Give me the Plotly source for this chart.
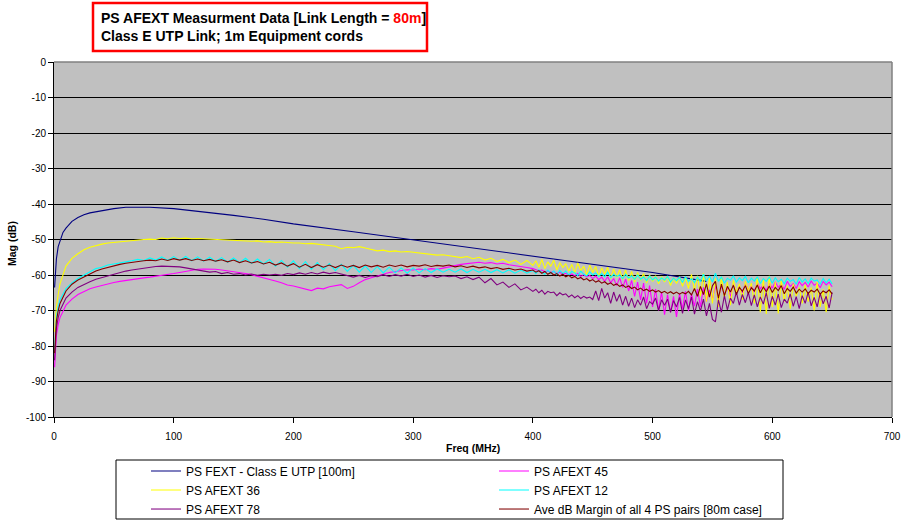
import plotly.graph_objects as go

# ---------------- data ----------------
# frequency grids (MHz)
FREQ_LOW = [0.5, 1, 2, 3.5] + list(range(5, 405, 5))          # 84 points
FREQ_HIGH = [402.5 + 2.5 * i for i in range(100)]              # 100 points

FEXT_FREQ = [0.5, 1, 2, 3.5, 5, 7.5, 10, 15, 20, 25, 30, 40, 50, 60, 70, 80,
             100, 125, 150, 175, 200, 250, 300, 350, 400, 450, 500, 545]
FEXT_VALS = [-63.5, -60, -55.5, -52, -50.3, -48, -46.8, -44.9, -43.8, -43, -42.5,
             -41.8, -41.3, -40.9, -40.8, -40.9, -41.3, -42.2, -43.2, -44.3, -45.6,
             -47.8, -50.1, -52.5, -54.8, -57.1, -59.3, -61.8]

AFEXT45_LOW = [
    -86, -81, -77, -74, -72, -68.5, -66.8, -65.5, -64.6, -63.9,
    -63.4, -62.9, -62.5, -62.1, -61.8, -61.5, -61.2, -61.0, -60.8, -60.6,
    -60.4, -60.1, -59.9, -59.6, -59.3, -59.0, -58.6, -58.4, -58.3, -58.3,
    -58.4, -58.6, -58.8, -59.1, -59.4, -59.6, -59.9, -60.3, -60.8, -61.2,
    -61.7, -62.2, -62.8, -63.1, -63.6, -64.0, -64.4, -63.7, -63.9, -63.3,
    -63.0, -62.7, -63.8, -63.2, -62.2, -61.3, -60.8, -60.2, -59.8, -59.3,
    -59.0, -58.7, -58.5, -58.6, -58.3, -58.5, -58.2, -58.4, -58.0, -57.8,
    -57.4, -57.0, -56.8, -56.6, -56.4, -56.7, -56.5, -56.9, -56.7, -57.1,
    -57.3, -57.6, -57.9, -58.2]
AFEXT45_HIGH = [
    -58.4, -58.8, -58.6, -59.1, -58.9, -59.3, -59.0, -59.6, -59.2, -59.8,
    -59.5, -60.0, -59.7, -60.2, -59.6, -60.4, -59.9, -60.6, -60.1, -61.0,
    -60.3, -61.3, -60.6, -61.8, -60.5, -62.2, -61.0, -63.0, -60.8, -63.5,
    -61.2, -64.5, -61.5, -66.0, -62.0, -67.0, -62.3, -68.0, -63.0, -69.0,
    -64.0, -70.0, -64.8, -71.2, -65.5, -70.5, -66.0, -71.8, -65.2, -69.5,
    -64.6, -70.2, -65.3, -68.8, -64.0, -69.0, -63.5, -67.5, -64.2, -66.8,
    -63.0, -67.0, -62.8, -65.5, -63.5, -66.0, -62.6, -64.8, -63.2, -65.0,
    -62.4, -64.2, -63.0, -64.8, -62.2, -63.9, -62.8, -64.5, -62.3, -63.7,
    -62.0, -63.5, -62.6, -64.0, -61.8, -63.2, -62.4, -63.8, -61.9, -63.0,
    -62.1, -63.4, -61.7, -62.9, -62.3, -63.6, -61.8, -62.8, -62.0, -63.3]

AFEXT36_LOW = [
    -76, -73, -69, -65.5, -62.5, -57.5, -55.3, -54.0, -52.9, -52.2,
    -51.7, -51.3, -51.0, -50.8, -50.6, -50.4, -50.3, -50.1, -50.0, -49.9,
    -50.0, -49.6, -49.8, -49.5, -49.7, -49.6, -49.8, -49.7, -49.8, -49.9,
    -49.8, -50.0, -50.0, -50.2, -50.3, -50.3, -50.5, -50.4, -50.7, -50.6,
    -50.8, -50.7, -50.9, -51.0, -51.0, -51.2, -51.1, -51.3, -51.4, -51.6,
    -51.9, -52.6, -52.2, -52.3, -52.0, -52.4, -52.8, -53.2, -53.0, -53.4,
    -53.2, -53.5, -53.4, -53.6, -53.7, -53.9, -54.2, -54.4, -54.3, -54.6,
    -54.7, -55.1, -54.8, -55.4, -55.0, -55.8, -55.3, -56.2, -55.6, -56.5,
    -55.8, -57.0, -55.9, -57.3]
AFEXT36_HIGH = [
    -56.0, -57.8, -55.6, -58.2, -56.3, -57.5, -55.8, -58.6, -56.5, -57.9,
    -56.8, -58.9, -57.0, -59.4, -56.6, -58.8, -57.5, -60.0, -57.2, -59.3,
    -57.6, -60.5, -58.0, -59.8, -57.8, -61.0, -58.3, -60.7, -58.5, -61.3,
    -58.6, -61.6, -59.0, -62.0, -59.3, -61.5, -59.6, -62.3, -60.0, -61.8,
    -60.2, -62.5, -60.4, -62.0, -60.3, -63.0, -60.8, -62.4, -60.5, -63.2,
    -60.6, -63.8, -59.8, -64.5, -60.2, -66.0, -59.5, -67.5, -60.8, -68.0,
    -61.0, -69.0, -60.5, -66.5, -62.0, -68.5, -61.5, -65.0, -62.5, -67.0,
    -61.8, -64.5, -62.3, -68.0, -60.5, -70.5, -61.0, -71.0, -60.2, -69.0,
    -62.0, -70.8, -61.5, -67.5, -63.0, -69.5, -62.5, -66.0, -63.5, -68.0,
    -62.8, -67.5, -63.5, -70.0, -62.0, -69.0, -64.0, -70.5, -63.0, -67.0]

AFEXT12_LOW = [
    -82, -77, -72, -69, -67, -63.8, -62.2, -61.0, -60.0, -59.2,
    -58.2, -57.8, -57.2, -56.9, -56.5, -56.3, -56.0, -55.6, -55.9, -55.2,
    -55.8, -54.9, -55.9, -54.8, -55.9, -54.8, -56.0, -54.9, -56.1, -55.0,
    -56.2, -55.1, -56.4, -55.2, -56.5, -55.3, -56.7, -55.5, -56.9, -55.6,
    -57.5, -55.9, -57.8, -56.0, -58.2, -56.2, -58.4, -56.5, -58.5, -56.8,
    -58.8, -57.0, -59.0, -57.2, -59.2, -57.4, -59.3, -57.6, -59.4, -57.8,
    -59.4, -58.0, -59.5, -58.0, -59.4, -58.2, -59.3, -58.3, -59.2, -58.4,
    -59.2, -58.3, -59.3, -58.4, -59.2, -58.4, -59.3, -58.5, -59.4, -58.5,
    -59.5, -58.6, -59.5, -58.7]
AFEXT12_HIGH = [
    -59.6, -58.5, -59.2, -59.8, -58.6, -59.5, -58.9, -59.9, -58.7, -59.6,
    -58.9, -60.0, -59.0, -59.4, -60.2, -58.9, -59.8, -60.3, -59.1, -60.0,
    -59.4, -60.4, -59.6, -60.5, -59.2, -60.7, -59.8, -60.4, -60.0, -61.0,
    -59.8, -60.9, -60.2, -61.3, -60.0, -61.2, -60.5, -61.6, -60.3, -61.4,
    -60.6, -61.7, -60.8, -61.5, -60.4, -62.0, -60.9, -61.6, -60.7, -62.1,
    -60.5, -61.8, -61.0, -62.2, -60.6, -61.9, -59.8, -61.7, -60.3, -62.0,
    -59.5, -61.8, -60.6, -62.3, -60.9, -61.5, -60.2, -62.0, -60.8, -61.6,
    -60.4, -62.2, -60.9, -61.7, -60.5, -62.4, -61.0, -61.8, -60.6, -62.3,
    -60.8, -61.9, -61.2, -62.5, -60.9, -61.8, -61.3, -62.6, -60.7, -62.0,
    -61.1, -62.4, -60.9, -61.7, -61.4, -62.6, -61.0, -62.2, -61.2, -62.5]

AFEXT78_LOW = [
    -84, -79, -75, -72, -70, -66.5, -64.8, -63.5, -62.6, -61.9,
    -61.2, -60.7, -60.2, -59.8, -59.3, -58.9, -58.6, -58.3, -58.0, -57.8,
    -57.6, -57.5, -57.5, -57.6, -57.7, -58.0, -58.3, -58.6, -58.8, -59.2,
    -59.0, -59.6, -59.3, -59.8, -59.6, -60.0, -59.7, -60.1, -59.8, -60.0,
    -59.8, -60.1, -59.6, -59.9, -59.4, -59.8, -59.3, -59.7, -59.2, -59.6,
    -59.3, -59.8, -60.2, -60.6, -60.1, -60.7, -60.2, -60.5, -59.9, -60.4,
    -59.9, -60.3, -59.8, -60.4, -60.0, -60.6, -60.1, -60.7, -60.2, -60.5,
    -60.3, -61.0, -60.5, -61.3, -60.6, -62.2, -61.0, -62.8, -62.0, -63.5,
    -62.5, -64.2, -63.4, -64.6]
AFEXT78_HIGH = [
    -64.0, -65.0, -64.3, -65.4, -64.6, -65.0, -64.8, -65.8, -65.0, -65.6,
    -65.3, -66.2, -65.6, -66.4, -65.8, -66.6, -66.0, -66.5, -66.2, -66.9,
    -64.5, -67.2, -63.8, -66.5, -65.0, -68.0, -64.8, -67.4, -65.5, -68.5,
    -66.0, -68.8, -66.5, -69.2, -67.0, -68.5, -66.2, -69.5, -67.5, -68.2,
    -66.5, -70.0, -67.0, -68.5, -66.8, -70.5, -67.2, -69.0, -66.3, -70.8,
    -67.0, -69.5, -66.2, -71.0, -67.5, -70.2, -66.8, -71.5, -68.0, -72.5,
    -73.2, -67.0, -70.5, -65.8, -69.8, -66.5, -68.0, -64.8, -68.5, -65.5,
    -67.8, -64.9, -68.6, -65.6, -69.0, -66.2, -68.2, -65.0, -69.4, -66.0,
    -68.5, -65.4, -69.2, -66.8, -67.9, -65.3, -68.8, -66.1, -69.5, -65.8,
    -68.0, -64.8, -68.7, -66.3, -69.0, -65.2, -68.1, -66.0, -69.3, -64.9]

AVE_LOW = [
    -82, -77, -73, -70, -68, -64.5, -62.6, -61.4, -60.5, -59.6,
    -58.9, -58.3, -57.8, -57.3, -57.0, -56.7, -56.4, -56.2, -56.0, -55.8,
    -56.0, -55.5, -55.9, -55.4, -55.8, -55.4, -55.9, -55.5, -56.0, -55.6,
    -56.1, -55.7, -56.3, -55.8, -56.5, -56.0, -56.6, -56.2, -56.9, -56.4,
    -57.2, -56.6, -57.5, -56.8, -57.8, -57.0, -57.9, -57.1, -57.8, -57.2,
    -57.9, -57.2, -57.8, -57.3, -57.9, -57.2, -57.7, -57.3, -57.8, -57.2,
    -57.6, -57.2, -57.7, -57.3, -57.5, -57.1, -57.6, -57.3, -57.5, -57.2,
    -57.7, -57.4, -57.9, -57.5, -58.0, -57.7, -58.2, -57.9, -58.4, -58.1,
    -58.6, -58.3, -58.9, -58.6]
AVE_HIGH = [
    -59.2, -58.8, -59.5, -59.0, -59.8, -59.3, -60.0, -59.6, -60.3, -59.8,
    -60.5, -60.1, -60.8, -60.4, -61.1, -60.7, -61.4, -61.0, -61.7, -61.3,
    -62.0, -61.6, -62.3, -61.9, -62.6, -62.2, -62.9, -62.5, -63.2, -62.8,
    -63.5, -63.1, -63.8, -63.4, -64.2, -63.7, -64.4, -64.0, -64.6, -64.2,
    -64.8, -64.4, -65.0, -64.6, -65.2, -64.7, -65.3, -64.8, -65.4, -64.9,
    -65.3, -64.6, -65.6, -63.8, -66.0, -63.2, -65.5, -62.5, -66.2, -63.0,
    -61.8, -66.5, -62.6, -65.8, -63.2, -64.8, -62.9, -65.5, -63.5, -64.6,
    -63.0, -65.2, -63.6, -64.5, -62.8, -65.0, -63.4, -64.7, -63.1, -64.9,
    -63.5, -64.4, -63.0, -65.3, -63.8, -64.6, -63.4, -65.1, -64.0, -64.8,
    -63.9, -65.2, -64.3, -64.8, -64.0, -65.4, -64.5, -65.0, -64.2, -65.3]

X_TICKS = [0, 100, 200, 300, 400, 500, 600, 700]
Y_TICKS = [0, -10, -20, -30, -40, -50, -60, -70, -80, -90, -100]

# ---------------- figure ----------------
FREQ = FREQ_LOW + FREQ_HIGH
# (name, x, y, colour, legend column)
series = [
    ("PS FEXT - Class E UTP [100m]", FEXT_FREQ, FEXT_VALS, "#000080", "legend"),
    ("PS AFEXT 45", FREQ, AFEXT45_LOW + AFEXT45_HIGH, "#FF00FF", "legend2"),
    ("PS AFEXT 36", FREQ, AFEXT36_LOW + AFEXT36_HIGH, "#FFFF00", "legend"),
    ("PS AFEXT 12", FREQ, AFEXT12_LOW + AFEXT12_HIGH, "#00FFFF", "legend2"),
    ("PS AFEXT 78", FREQ, AFEXT78_LOW + AFEXT78_HIGH, "#800080", "legend"),
    ("Ave dB Margin of all 4 PS pairs [80m case]", FREQ, AVE_LOW + AVE_HIGH, "#800000", "legend2"),
]

fig = go.Figure()
for name, xs, ys, col, leg in series:
    n = min(len(xs), len(ys))
    fig.add_trace(go.Scatter(x=xs[:n], y=ys[:n], mode="lines", name=name,
                             line=dict(color=col, width=1.1), legend=leg))

PL, PR, PT, PB = 54, 892, 62, 417
W, H = PR - PL, PB - PT


def px(xp):
    return (xp - PL) / W


def py(yp):
    return (PB - yp) / H


FONT = "Arial, Liberation Sans, sans-serif"
TICKFONT = dict(family=FONT, size=10, color="black")
LEGFONT = dict(family=FONT, size=12, color="black")

fig.update_layout(
    width=904, height=520,
    margin=dict(l=PL, r=904 - PR, t=PT, b=520 - PB, pad=0, autoexpand=False),
    paper_bgcolor="white", plot_bgcolor="#C0C0C0",
    font=dict(family=FONT, color="black"),
    xaxis=dict(range=[0, 700], tickvals=X_TICKS, ticktext=[str(v) for v in X_TICKS],
               showgrid=False, zeroline=False, showline=True, linecolor="black",
               linewidth=1, ticks="outside", ticklen=5, tickcolor="black",
               tickfont=TICKFONT, ticklabelstandoff=5),
    yaxis=dict(range=[-100, 0], tickvals=Y_TICKS, ticktext=[str(v) for v in Y_TICKS],
               showgrid=True, gridcolor="black", gridwidth=1, zeroline=False,
               showline=True, linecolor="black", linewidth=1, ticks="outside",
               ticklen=5, tickcolor="black", tickfont=TICKFONT),
    showlegend=True,
    legend=dict(orientation="v", x=px(146), xanchor="left", y=py(456.5), yanchor="top",
                bgcolor="rgba(0,0,0,0)", borderwidth=0, font=LEGFONT,
                tracegroupgap=0, traceorder="normal", itemwidth=30),
    legend2=dict(orientation="v", x=px(494), xanchor="left", y=py(456.5), yanchor="top",
                 bgcolor="rgba(0,0,0,0)", borderwidth=0, font=LEGFONT,
                 tracegroupgap=0, traceorder="normal", itemwidth=30),
)

shapes = [
    # plot border (top/right gray)
    dict(type="line", xref="paper", yref="paper", x0=0, x1=1, y0=1, y1=1,
         line=dict(color="#808080", width=1.5)),
    dict(type="line", xref="paper", yref="paper", x0=1, x1=1, y0=0, y1=1,
         line=dict(color="#808080", width=1.5)),
    # title box
    dict(type="rect", xref="paper", yref="paper", x0=px(93), x1=px(427),
         y0=py(51), y1=py(3), line=dict(color="#FF0000", width=2.5)),
    # legend box
    dict(type="rect", xref="paper", yref="paper", x0=px(116), x1=px(783),
         y0=py(519), y1=py(460), line=dict(color="black", width=1)),
]
fig.update_layout(shapes=shapes)

annotations = [
    dict(xref="paper", yref="paper", x=px(99), y=py(27), xanchor="left", yanchor="middle",
         align="left", showarrow=False,
         text="<b>PS AFEXT Measurment Data [Link Length = <span style='color:#FF0000'>80m</span>]"
              "<br>Class E UTP Link; 1m Equipment cords</b>",
         font=dict(size=14, family=FONT, color="black")),
    dict(xref="paper", yref="paper", x=px(12), y=py(244), xanchor="center", yanchor="middle",
         showarrow=False, textangle=-90, text="<b>Mag (dB)</b>",
         font=dict(size=10.5, family=FONT)),
    dict(xref="paper", yref="paper", x=px(473), y=py(448), xanchor="center", yanchor="middle",
         showarrow=False, text="<b>Freq (MHz)</b>",
         font=dict(size=10.5, family=FONT)),
]
fig.update_layout(annotations=annotations)

fig.write_html("out.html")
